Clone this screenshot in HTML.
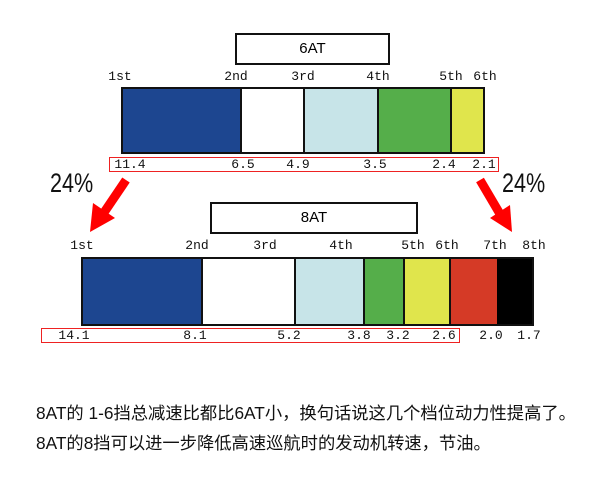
<!DOCTYPE html>
<html><head><meta charset="utf-8"><style>
body{margin:0;width:600px;height:496px;background:#fff;position:relative;overflow:hidden;font-family:"Liberation Sans","Noto Sans CJK SC",sans-serif}
.a{position:absolute}
.t{position:absolute;font-size:13px;color:#111;transform:translateX(-50%);white-space:nowrap;font-family:"Liberation Mono",monospace}
.seg{position:absolute;top:0;bottom:0;border-left:2px solid #111}
.box{position:absolute;border:2px solid #111;background:#fff;font-size:15px;text-align:center;box-sizing:border-box}
.p{position:absolute;font-size:27px;font-family:"Liberation Sans Narrow","Liberation Sans",sans-serif;color:#111;transform:scaleX(0.8);transform-origin:left top}
.txt{position:absolute;left:36px;font-size:17.3px;color:#111;white-space:nowrap}
.bar{position:absolute;border:2px solid #111;box-sizing:border-box;background:#fff;overflow:hidden}
</style></head><body>
<div class="box" style="left:235px;top:33px;width:155px;height:32px;line-height:28px">6AT</div>
<div class="t" style="left:120px;top:69px">1st</div>
<div class="t" style="left:236px;top:69px">2nd</div>
<div class="t" style="left:303px;top:69px">3rd</div>
<div class="t" style="left:378px;top:69px">4th</div>
<div class="t" style="left:451px;top:69px">5th</div>
<div class="t" style="left:485px;top:69px">6th</div>
<div class="bar" style="left:121px;top:87px;width:364px;height:67px">
<div class="a" style="left:0;top:0;width:117px;height:100%;background:#1d4690"></div>
<div class="a" style="left:180px;top:0;width:74px;height:100%;background:#c7e4e8"></div>
<div class="a" style="left:254px;top:0;width:73px;height:100%;background:#55ae4a"></div>
<div class="a" style="left:327px;top:0;width:40px;height:100%;background:#e0e54c"></div>
<div class="seg" style="left:117px"></div><div class="seg" style="left:180px"></div><div class="seg" style="left:254px"></div><div class="seg" style="left:327px"></div>
</div>
<div class="a" style="left:109px;top:157px;width:390px;height:15px;border:1px solid #e22;box-sizing:border-box"></div>
<div class="t" style="left:130px;top:157px">11.4</div>
<div class="t" style="left:243px;top:157px">6.5</div>
<div class="t" style="left:298px;top:157px">4.9</div>
<div class="t" style="left:375px;top:157px">3.5</div>
<div class="t" style="left:444px;top:157px">2.4</div>
<div class="t" style="left:484px;top:157px">2.1</div>
<div class="p" style="left:50px;top:168px">24%</div>
<div class="p" style="left:502px;top:168px">24%</div>
<svg class="a" style="left:0;top:0" width="600" height="496">
<line x1="126" y1="180" x2="103" y2="214" stroke="#f00" stroke-width="9"/>
<polygon points="90,232 93,203 115,218" fill="#f00"/>
<line x1="480" y1="180" x2="500" y2="214" stroke="#f00" stroke-width="9"/>
<polygon points="512,232 490,218 510,205" fill="#f00"/>
</svg>
<div class="box" style="left:210px;top:202px;width:208px;height:32px;line-height:28px">8AT</div>
<div class="t" style="left:82px;top:238px">1st</div>
<div class="t" style="left:197px;top:238px">2nd</div>
<div class="t" style="left:265px;top:238px">3rd</div>
<div class="t" style="left:341px;top:238px">4th</div>
<div class="t" style="left:413px;top:238px">5th</div>
<div class="t" style="left:447px;top:238px">6th</div>
<div class="t" style="left:495px;top:238px">7th</div>
<div class="t" style="left:534px;top:238px">8th</div>
<div class="bar" style="left:81px;top:257px;width:453px;height:69px">
<div class="a" style="left:0;top:0;width:118px;height:100%;background:#1d4690"></div>
<div class="a" style="left:211px;top:0;width:69px;height:100%;background:#c7e4e8"></div>
<div class="a" style="left:280px;top:0;width:40px;height:100%;background:#55ae4a"></div>
<div class="a" style="left:320px;top:0;width:46px;height:100%;background:#e0e54c"></div>
<div class="a" style="left:366px;top:0;width:48px;height:100%;background:#d53a26"></div>
<div class="a" style="left:414px;top:0;width:40px;height:100%;background:#000"></div>
<div class="seg" style="left:118px"></div><div class="seg" style="left:211px"></div><div class="seg" style="left:280px"></div><div class="seg" style="left:320px"></div><div class="seg" style="left:366px"></div>
</div>
<div class="a" style="left:41px;top:328px;width:419px;height:15px;border:1px solid #e22;box-sizing:border-box"></div>
<div class="t" style="left:74px;top:328px">14.1</div>
<div class="t" style="left:195px;top:328px">8.1</div>
<div class="t" style="left:289px;top:328px">5.2</div>
<div class="t" style="left:359px;top:328px">3.8</div>
<div class="t" style="left:398px;top:328px">3.2</div>
<div class="t" style="left:444px;top:328px">2.6</div>
<div class="t" style="left:491px;top:328px">2.0</div>
<div class="t" style="left:529px;top:328px">1.7</div>
<div class="txt" style="top:399px">8AT的 1-6挡总减速比都比6AT小，换句话说这几个档位动力性提高了。</div>
<div class="txt" style="top:429px">8AT的8挡可以进一步降低高速巡航时的发动机转速，节油。</div>
</body></html>
